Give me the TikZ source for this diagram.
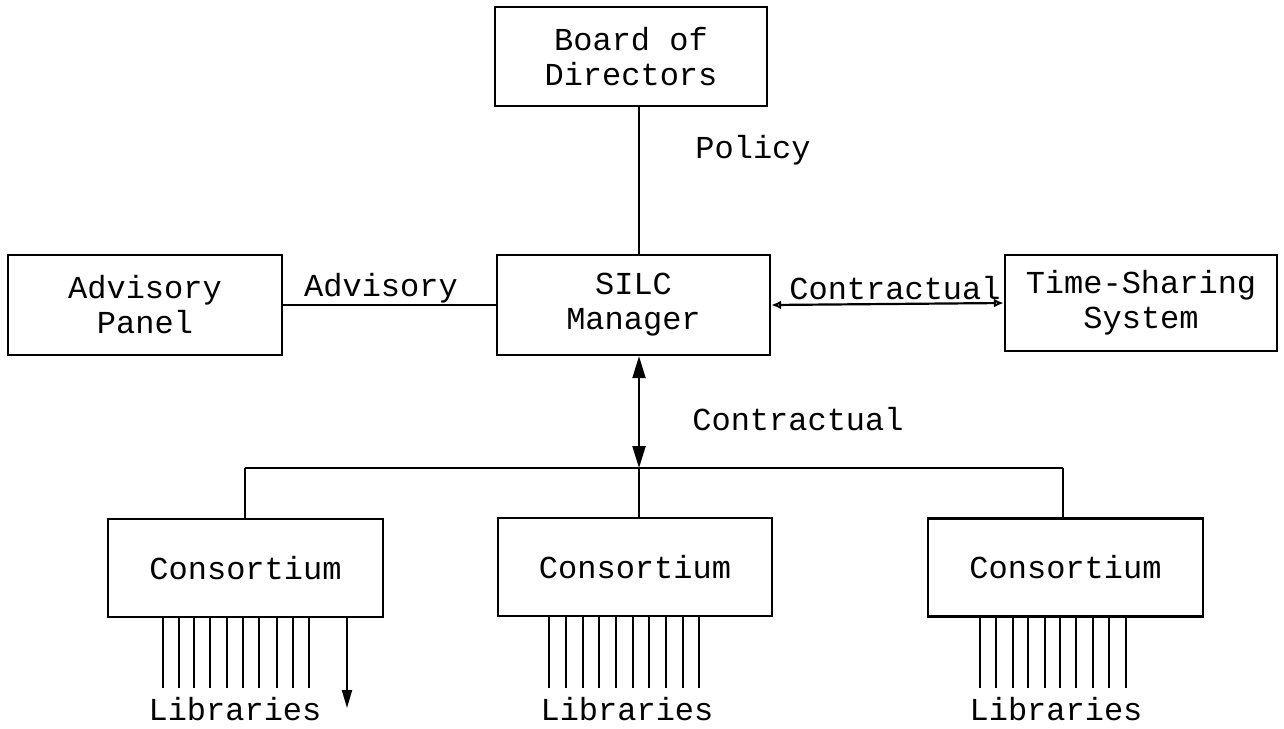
\documentclass[tikz,border=0pt]{standalone}
\usepackage{fontspec}
\setmainfont{Liberation Mono}
\usetikzlibrary{arrows.meta}
\tikzset{
  box/.style={draw, line width=2.4pt, align=center, inner sep=0pt, font=\fontsize{32}{35}\selectfont},
  lbl/.style={inner sep=0pt, font=\fontsize{32}{35}\selectfont},
  conn/.style={line width=2.2pt},
  lib/.style={line width=2pt},
}
\begin{document}
\begin{tikzpicture}[x=1pt,y=-1pt]
\useasboundingbox (0,0) rectangle (1284,728);
\fill[white] (0,0) rectangle (1284,728);
% boxes
\node[box, minimum width=272pt, minimum height=99pt] (board) at (631,56.5) {Board of\\Directors};
\node[box, minimum width=273pt, minimum height=100pt] (manager) at (633.5,305) {SILC\\Manager};
\node[box, minimum width=274pt, minimum height=100pt] (advisory) at (145,305) {Advisory\\Panel};
\node[box, minimum width=272pt, minimum height=96pt] (tss) at (1141,303) {Time-Sharing\\System};
\node[box, minimum width=275pt, minimum height=98pt] (c1) at (245.5,568) {Consortium};
\node[box, minimum width=274pt, minimum height=98pt] (c2) at (635,567) {Consortium};
\node[box, minimum width=275pt, minimum height=98pt] (c3) at (1065.5,567.5) {Consortium};
% labels
\node[lbl] (policy) at (753,150) {Policy};
\node[lbl] (advlbl) at (381,288) {Advisory};
\node[lbl] (contr1) at (895,288) {Contractual};
\node[lbl] (contr2) at (798,419) {Contractual};
% coordinates
\coordinate (spine) at (639,0);
\coordinate (busL) at (245,468);
\coordinate (busR) at (1063,468);
% connectors
\draw[conn] (board.south -| spine) -- (manager.north -| spine);
\draw[conn] (advisory.east) -- (manager.west);
\draw[conn, {Latex[open,length=10pt,width=9pt]}-{Latex[open,length=10pt,width=9pt]}] (manager.east) -- (tss.west);
\draw[conn, {Triangle[length=22pt,width=13pt]}-{Triangle[length=22pt,width=13pt]}] (manager.south -| spine) -- (busL -| spine);
\draw[conn] (busL) -- (busR);
\draw[conn] (busL) -- (c1.north -| busL);
\draw[conn] (busR) -- (c3.north -| busR);
\draw[conn] (busL -| spine) -- (c2.north -| spine);
% library lines
\foreach \x in {163,179,194,210,227,243,259,277,293,309}
  \draw[lib] (c1.south -| \x,0) -- (\x,688);
\coordinate (arrowend) at (347,708);
\draw[lib, -{Triangle[length=18pt,width=10pt]}] (c1.south -| arrowend) -- (arrowend);
\foreach \x in {549,566,583,599,616,633,649,666,683,699}
  \draw[lib] (c2.south -| \x,0) -- (\x,688);
\foreach \x in {980,996,1013,1028,1045,1060,1076,1093,1109,1126}
  \draw[lib] (c3.south -| \x,0) -- (\x,688);
\node[lbl] (lib1) at (235,709) {Libraries};
\node[lbl] (lib2) at (627,709) {Libraries};
\node[lbl] (lib3) at (1056,709) {Libraries};
\end{tikzpicture}
\end{document}
